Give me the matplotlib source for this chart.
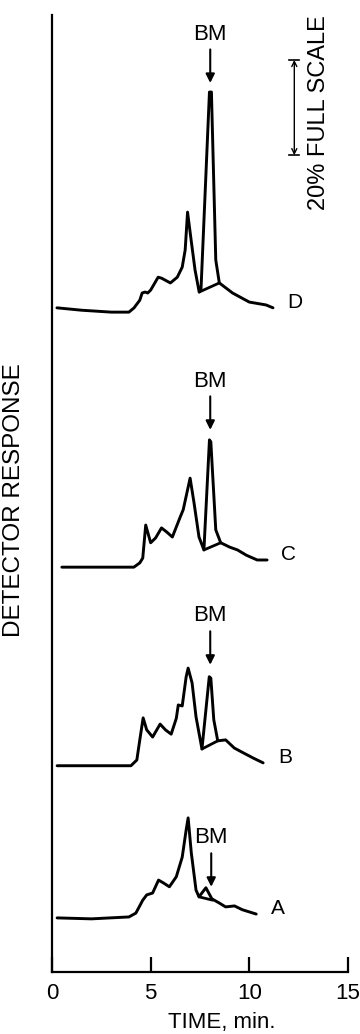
import matplotlib
matplotlib.use("Agg")
from matplotlib import pyplot as plt

plt.rcParams['font.family'] = ['Liberation Sans', 'DejaVu Sans']

# chromatograms, time in min, response in % of full scale (stacked)
timeA = [0.26, 2.0, 3.9, 4.25, 4.6, 4.8, 5.1, 5.4, 5.65, 5.95, 6.3, 6.6, 6.8, 6.9, 7.06, 7.3, 7.45, 7.8, 8.1, 8.48, 8.8, 9.25, 9.65, 10.35]
respA = [11.3, 11.1, 11.5, 12.3, 15.0, 16.1, 16.5, 19.2, 18.6, 17.8, 19.9, 24.0, 29.7, 32.2, 24.9, 17.1, 15.7, 17.6, 15.3, 14.4, 13.6, 13.8, 13.0, 12.1]

timeB = [0.26, 2.0, 4.0, 4.3, 4.45, 4.62, 4.8, 5.1, 5.48, 5.75, 6.04, 6.3, 6.4, 6.6, 6.8, 6.9, 7.1, 7.3, 7.6, 7.97, 8.05, 8.2, 8.4, 8.8, 9.24, 9.6, 10.2, 10.7]
respB = [43.1, 43.1, 43.1, 44.3, 48.5, 53.1, 50.6, 49.1, 51.8, 50.6, 49.7, 53.0, 55.8, 55.6, 61.7, 63.5, 60.4, 53.3, 46.6, 61.7, 61.4, 52.7, 48.3, 48.5, 46.8, 46.0, 44.7, 43.7]

timeC = [0.5, 2.0, 4.15, 4.45, 4.6, 4.75, 5.0, 5.25, 5.55, 5.8, 6.1, 6.5, 6.65, 7.0, 7.2, 7.45, 7.7, 7.98, 8.05, 8.3, 8.55, 9.0, 9.4, 9.85, 10.4, 10.9]
respC = [84.6, 84.6, 84.6, 85.5, 86.5, 93.4, 89.7, 90.7, 92.8, 92.0, 90.9, 95.1, 96.6, 103.2, 98.0, 90.9, 88.2, 111.2, 110.8, 92.4, 89.7, 88.8, 88.2, 87.1, 86.1, 86.1]

timeD = [0.25, 1.5, 3.0, 3.9, 4.16, 4.45, 4.57, 4.72, 4.85, 5.0, 5.38, 5.55, 6.0, 6.35, 6.6, 6.75, 6.87, 7.05, 7.25, 7.46, 7.55, 7.98, 8.08, 8.3, 8.48, 9.15, 10.0, 10.85, 11.2]
respD = [138.8, 138.3, 137.9, 137.9, 138.8, 140.4, 141.9, 142.1, 141.9, 142.5, 145.2, 145.0, 144.0, 145.2, 147.3, 150.9, 158.8, 153.0, 146.7, 142.1, 142.5, 183.9, 183.9, 148.8, 144.0, 141.9, 140.0, 139.4, 138.8]

# drop baselines under the BM peak (start, end)
baseTime = [[7.45, 8.15], [7.6, 8.4], [7.7, 8.55], [7.46, 8.48]]
baseResp = [[15.7, 15.0], [46.6, 48.3], [88.2, 89.7], [142.1, 144.0]]

traceNames = ["A", "B", "C", "D"]
bmTime = [8.07, 8.02, 8.02, 8.02]
bmPeak = [17.8, 64.2, 113.3, 185.8]

xticks = [0, 5, 10, 15]

times = [timeA, timeB, timeC, timeD]
resps = [respA, respB, respC, respD]

fig = plt.figure(figsize=(3.6, 10.34), dpi=100)
ax = fig.add_axes([0.1444, 0.06, 0.8222, 0.9255])

for t, r, bt, br in zip(times, resps, baseTime, baseResp):
    ax.plot(t, r, color="black", lw=2.1, solid_joinstyle='round', solid_capstyle='round')
    ax.plot(bt, br, color="black", lw=2.0, solid_capstyle='round')

# trace letters
for name, t, r in zip(traceNames, times, resps):
    ax.text(t[-1] + 1.1, r[-1] + 1.2, name, fontsize=15, ha="center", va="center")

# BM markers
for bx, by in zip(bmTime, bmPeak):
    alen = 7.0
    ax.annotate("", xy=(bx, by), xytext=(bx, by + alen),
                arrowprops=dict(arrowstyle="-|>", color="black", lw=1.5, mutation_scale=13,
                                shrinkA=0, shrinkB=0))
    ax.text(bx - 0.02, by + alen + 3.2, "BM", fontsize=16, ha="center", va="center")

# 20% full scale bar
sx, s0, s1 = 12.28, 170.7, 190.6
ax.annotate("", xy=(sx, s0), xytext=(sx, s1),
            arrowprops=dict(arrowstyle="<->", color="black", lw=1.0, mutation_scale=9,
                            shrinkA=0, shrinkB=0))
ax.plot([sx - 0.25, sx + 0.25], [s0, s0], color="black", lw=1.2)
ax.plot([sx - 0.25, sx + 0.25], [s1, s1], color="black", lw=1.2)
ax.text(13.55, 179.7, "20% FULL SCALE", fontsize=17, rotation=90, ha="center", va="center")

ax.set_xlim(0, 15)
ax.set_ylim(0, 200)
ax.set_xticks(xticks)
ax.set_yticks([])
ax.spines['top'].set_visible(False)
ax.spines['right'].set_visible(False)
ax.spines['left'].set_linewidth(1.6)
ax.spines['bottom'].set_linewidth(1.6)
ax.tick_params(axis='x', direction='in', length=11, width=1.6, labelsize=16, pad=8)

ax.set_xlabel("TIME, min.", fontsize=16, va="center")
ax.xaxis.set_label_coords(0.573, -0.053)
ax.set_ylabel("DETECTOR RESPONSE", fontsize=17.5)
ax.yaxis.set_label_coords(-0.09, 0.493)

fig.savefig("out.png", dpi=100)
